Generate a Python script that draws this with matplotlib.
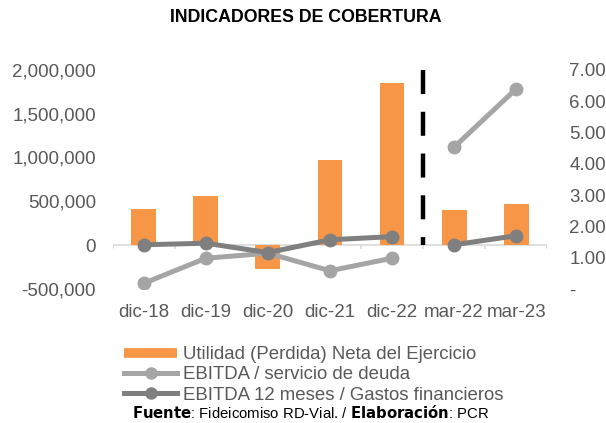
import matplotlib
matplotlib.use("Agg")
import matplotlib.pyplot as plt
import numpy as np
from matplotlib.ticker import FuncFormatter
from matplotlib.lines import Line2D

plt.rcParams['font.family'] = ['Liberation Sans', 'DejaVu Sans']

# data
periods = ["dic-18", "dic-19", "dic-20", "dic-21", "dic-22", "mar-22", "mar-23"]
utilidad = [415000, 560000, -278000, 968000, 1851000, 400000, 469000]
ebitda_deuda = [0.18, 0.98, 1.14, 0.58, 0.98, 4.53, 6.39]
ebitda_gastos = [1.41, 1.46, 1.16, 1.57, 1.67, 1.41, 1.70]
split_after = 4  # annual data ends at dic-22, interim after

ORANGE = "#F79646"
LIGHT = "#A5A5A5"
DARK = "#7F7F7F"
TXT = "#595959"

fig = plt.figure(figsize=(6.06, 4.23), dpi=100)
ax = fig.add_axes([0.186, 0.317, 0.717, 0.518])
ax2 = ax.twinx()

x = np.arange(len(periods))
ax.bar(x, utilidad, width=0.4, color=ORANGE, zorder=2)

# break the lines between annual and interim periods
def split(vals):
    v = np.array(vals, dtype=float)
    xs = np.concatenate([x[:split_after + 1], [np.nan], x[split_after + 1:]])
    ys = np.concatenate([v[:split_after + 1], [np.nan], v[split_after + 1:]])
    return xs, ys

xs, ys = split(ebitda_deuda)
ax2.plot(xs, ys, color=LIGHT, lw=3.6, marker="o", ms=9, zorder=3)
xs, ys = split(ebitda_gastos)
ax2.plot(xs, ys, color=DARK, lw=3.6, marker="o", ms=9, zorder=4)

# separator between annual and quarterly figures (dashes start at the top)
ax.vlines(split_after + 0.5, 2000000, 0, colors="black", lw=3.2,
          linestyles=(0, (5.4, 4.0)), zorder=5)

ax.set_xlim(-0.5, len(periods) - 0.5)
ax.set_ylim(-500000, 2000000)
ax.set_yticks(np.arange(-500000, 2000001, 500000))
ax.yaxis.set_major_formatter(FuncFormatter(lambda v, p: f"{v:,.0f}"))
ax2.set_ylim(0, 7)
ax2.set_yticks(np.arange(0, 8, 1))
ax2.yaxis.set_major_formatter(FuncFormatter(lambda v, p: "-" if v == 0 else f"{v:.2f}"))

ax.set_xticks(x)
ax.set_xticklabels(periods)

for a in (ax, ax2):
    for s in a.spines.values():
        s.set_visible(False)
    a.tick_params(axis="both", which="major", length=0, labelsize=13.5, colors=TXT)
ax.tick_params(axis="y", pad=12)
ax2.tick_params(axis="y", pad=16)
ax.tick_params(axis="x", pad=11)
ax.axhline(0, color="#D9D9D9", lw=1.2, zorder=1)
# category separators hanging below the zero line
ax.vlines(np.arange(-0.5, len(periods), 1), -45000, 0, colors="#D9D9D9", lw=1.2, zorder=1)

fig.text(0.505, 0.958, "INDICADORES DE COBERTURA", ha="center", va="center",
         fontsize=12.8, fontweight="bold", color="black")

handles = [Line2D([], [], color=ORANGE, lw=7, solid_capstyle="butt"),
           Line2D([], [], color=LIGHT, lw=3.6, marker="o", ms=8),
           Line2D([], [], color=DARK, lw=3.6, marker="o", ms=8)]
labels = ["Utilidad (Perdida) Neta del Ejercicio", "EBITDA / servicio de deuda",
          "EBITDA 12 meses / Gastos financieros"]
fig.legend(handles, labels, loc="upper left", bbox_to_anchor=(0.205, 0.182),
           frameon=False, fontsize=13.4, handlelength=2.85, handletextpad=0.3,
           labelspacing=0.18, borderaxespad=0, borderpad=0, labelcolor=TXT)

fig.text(0.513, 0.024, r"$\bf{Fuente}$: Fideicomiso RD-Vial. / $\bf{Elaboración}$: PCR",
         ha="center", va="center", fontsize=10.7, color="black")

fig.savefig("out.png", dpi=100)
